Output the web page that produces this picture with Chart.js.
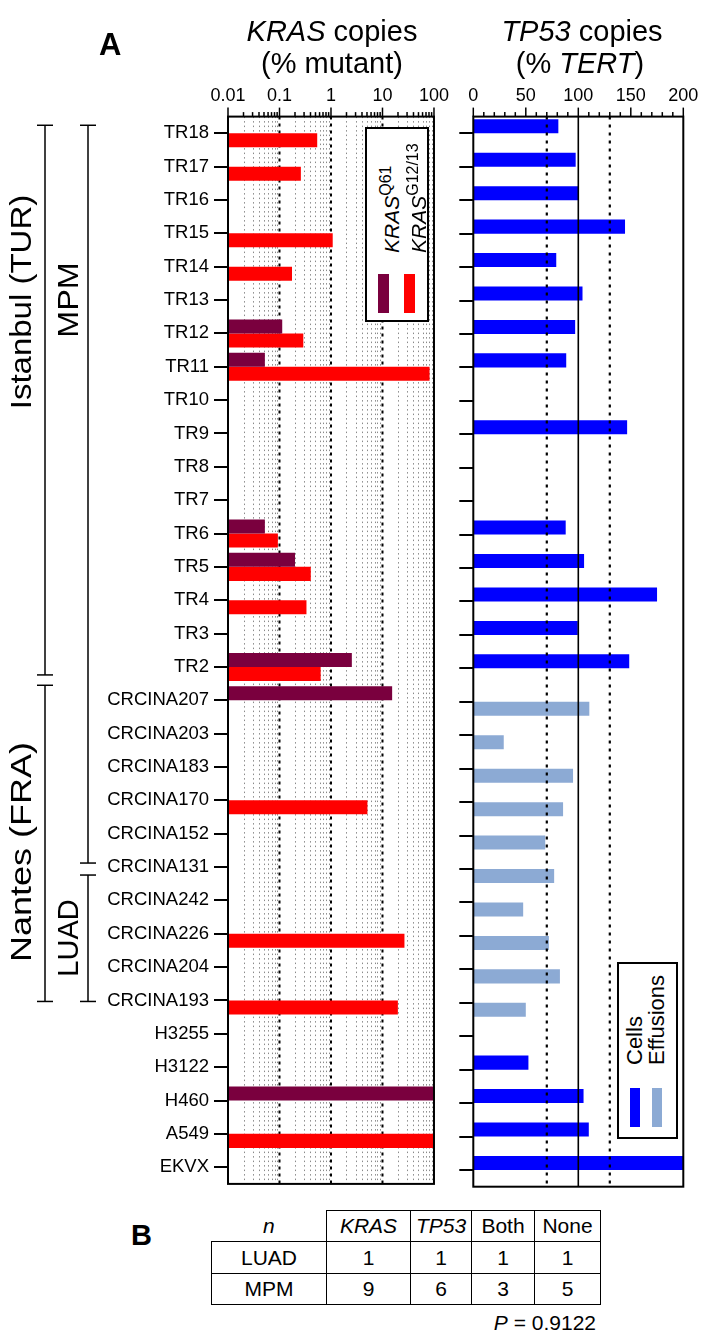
<!DOCTYPE html>
<html>
<head>
<meta charset="utf-8">
<script src="https://cdn.jsdelivr.net/npm/chart.js@4"></script>
<style>
  body { margin: 0; background: #fff; }
  #page { position: relative; width: 709px; height: 1341px; overflow: hidden;
          font-family: "Liberation Sans", Arial, sans-serif; color: #000; }
  .abs { position: absolute; white-space: nowrap; }
  canvas { position: absolute; top: 0; }
  .rot { position: absolute; white-space: nowrap; transform-origin: 0 0; transform: rotate(-90deg); }
  .lgbox { position: absolute; box-sizing: border-box; border: 2px solid #000; background: #fff; }
  .sw { position: absolute; }
  table { position: absolute; border-collapse: collapse; table-layout: fixed; font-size: 21px; }
  td { border: 1.5px solid #000; text-align: center; padding: 0; }
</style>
</head>
<body>
<div id="page">
  <canvas id="kras" width="450" height="1200" style="left:0"></canvas>
  <canvas id="tp53" width="259" height="1200" style="left:450px"></canvas>

  <div class="abs" style="left:99px;top:29px;font-size:31px;font-weight:bold;line-height:31px">A</div>
  <div class="abs" style="left:232px;width:200px;text-align:center;top:17px;font-size:29px;line-height:29px"><i>KRAS</i> copies</div>
  <div class="abs" style="left:232px;width:200px;text-align:center;top:49px;font-size:29px;line-height:29px">(% mutant)</div>
  <div class="abs" style="left:482px;width:200px;text-align:center;top:17px;font-size:29px;line-height:29px"><i>TP53</i> copies</div>
  <div class="abs" style="left:480px;width:200px;text-align:center;top:49px;font-size:29px;line-height:29px">(% <i>TERT</i>)</div>

  <!-- legend KRAS -->
  <div class="lgbox" style="left:365px;top:127px;width:64px;height:195px"></div>
  <div class="rot" style="left:374px;top:253px;font-size:21px;line-height:24px;height:24px"><i>KRAS</i><sup style="font-size:16px">Q61</sup></div>
  <div class="rot" style="left:401px;top:253px;font-size:21px;line-height:24px;height:24px"><i>KRAS</i><sup style="font-size:16px">G12/13</sup></div>
  <div class="sw" style="left:378px;top:274px;width:11px;height:39px;background:#7a003e"></div>
  <div class="sw" style="left:404px;top:274px;width:11px;height:39px;background:#ff0000"></div>

  <!-- legend TP53 -->
  <div class="lgbox" style="left:617px;top:962px;width:61px;height:177px"></div>
  <div class="rot" style="left:622px;top:1065px;font-size:22px;line-height:25px;height:25px">Cells</div>
  <div class="rot" style="left:644px;top:1065px;font-size:22px;line-height:25px;height:25px">Effusions</div>
  <div class="sw" style="left:630px;top:1088px;width:10px;height:39px;background:#0000ff"></div>
  <div class="sw" style="left:652px;top:1088px;width:10px;height:39px;background:#8caad4"></div>

  <div class="abs" style="left:131px;top:1221px;font-size:29px;font-weight:bold;line-height:29px">B</div>
  <table style="left:211px;top:1210px;width:389px">
    <colgroup><col style="width:115px"><col style="width:84px"><col style="width:61px"><col style="width:63px"><col style="width:66px"></colgroup>
    <tr style="height:31px"><td style="border-top:none;border-left:none"><i>n</i></td><td><i>KRAS</i></td><td><i>TP53</i></td><td>Both</td><td>None</td></tr>
    <tr style="height:32px"><td>LUAD</td><td>1</td><td>1</td><td>1</td><td>1</td></tr>
    <tr style="height:31px"><td>MPM</td><td>9</td><td>6</td><td>3</td><td>5</td></tr>
  </table>
  <div class="abs" style="right:113px;top:1312px;font-size:21px;line-height:21px"><i>P</i> = 0.9122</div>
</div>

<script>
const FONT = '"Liberation Sans", Arial, sans-serif';

// samples, top to bottom
const samples = ["TR18", "TR17", "TR16", "TR15", "TR14", "TR13", "TR12", "TR11", "TR10", "TR9",
  "TR8", "TR7", "TR6", "TR5", "TR4", "TR3", "TR2",
  "CRCINA207", "CRCINA203", "CRCINA183", "CRCINA170", "CRCINA152", "CRCINA131",
  "CRCINA242", "CRCINA226", "CRCINA204", "CRCINA193",
  "H3255", "H3122", "H460", "A549", "EKVX"];

// KRAS mutant copies (% mutant), log axis
const krasQ61 = [null, null, null, null, null, null, 0.113, 0.052, null, null,
  null, null, 0.052, 0.2, null, null, 2.54,
  15.4, null, null, null, null, null,
  null, null, null, null,
  null, null, 100, null, null];
const krasG1213 = [0.54, 0.26, null, 1.08, 0.175, null, 0.29, 82, null, null,
  null, null, 0.093, 0.405, 0.334, null, 0.63,
  null, null, null, 5.1, null, null,
  null, 26.7, null, 19.9,
  null, null, null, 100, null];

// TP53 copies (% TERT)
const tp53Cells = [81, 97.5, 100, 144.5, 79, 104, 97, 88.5, null, 146.5,
  null, null, 88, 105.5, 175, 99.5, 148.5,
  null, null, null, null, null, null,
  null, null, null, null,
  null, 52.5, 105, 110, 200];
const tp53Effusions = [null, null, null, null, null, null, null, null, null, null,
  null, null, null, null, null, null, null,
  110.5, 29, 95, 85.5, 68.5, 77,
  47.5, 72, 82.5, 50,
  null, null, null, null, null];

const krasTicks = [0.01, 0.1, 1, 10, 100];
const krasTickLabels = ["0.01", "0.1", "1", "10", "100"];
const tp53Ticks = [0, 50, 100, 150, 200];
const tp53TickLabels = ["0", "50", "100", "150", "200"];
const tp53Dotted = [70, 130];
const tp53Solid = [100];

function line(ctx, x1, y1, x2, y2) {
  ctx.beginPath(); ctx.moveTo(x1, y1); ctx.lineTo(x2, y2); ctx.stroke();
}

function rotText(ctx, text, x, y, size, sx) {
  ctx.save();
  ctx.translate(x, y);
  ctx.rotate(-Math.PI / 2);
  ctx.scale(sx, 1);
  ctx.font = size + 'px ' + FONT;
  ctx.textAlign = 'center';
  ctx.textBaseline = 'middle';
  ctx.fillStyle = '#000';
  ctx.fillText(text, 0, 0);
  ctx.restore();
}

const krasDeco = {
  id: 'krasDeco',
  beforeDatasetsDraw(chart) {
    const { ctx, chartArea: a, scales: { x } } = chart;
    ctx.save();
    // minor grid
    ctx.strokeStyle = '#8a8a8a';
    ctx.lineWidth = 1;
    ctx.setLineDash([1.5, 3]);
    for (let d = 0; d < krasTicks.length - 1; d++) {
      for (let m = 2; m <= 9; m++) {
        const px = Math.round(x.getPixelForValue(krasTicks[d] * m)) + 0.5;
        line(ctx, px, a.top, px, a.bottom);
      }
    }
    // decade grid
    ctx.strokeStyle = '#000';
    ctx.lineWidth = 2;
    ctx.setLineDash([3, 4]);
    krasTicks.slice(1, -1).forEach(v => {
      const px = x.getPixelForValue(v);
      line(ctx, px, a.top, px, a.bottom);
    });
    ctx.restore();
  },
  afterDraw(chart) {
    const { ctx, chartArea: a, scales: { x, y } } = chart;
    ctx.save();
    ctx.strokeStyle = '#000';
    ctx.lineWidth = 2;
    ctx.strokeRect(a.left, a.top, a.right - a.left, a.bottom - a.top);
    ctx.lineWidth = 1.5;
    for (let d = 0; d < krasTicks.length; d++) {
      const px = x.getPixelForValue(krasTicks[d]);
      line(ctx, px, a.top, px, a.top - 9);
      if (d < krasTicks.length - 1) {
        for (let m = 2; m <= 9; m++) {
          const mx = x.getPixelForValue(krasTicks[d] * m);
          line(ctx, mx, a.top, mx, a.top - 4.5);
        }
      }
    }
    // group brackets
    const yi = i => y.getPixelForValue(i);
    const bracket = (bx, y1, y2) => {
      line(ctx, bx, y1, bx, y2);
      line(ctx, bx - 8, y1, bx + 8, y1);
      line(ctx, bx - 8, y2, bx + 8, y2);
    };
    bracket(45, yi(0) - 8, yi(16) + 8);
    bracket(45, yi(17) - 15, yi(26) + 1);
    bracket(88, yi(0) - 8, yi(22) - 4);
    bracket(88, yi(22) + 8, yi(26) + 1);
    ctx.restore();
    rotText(ctx, 'Istanbul (TUR)', 23, 302, 30, 1.1);
    rotText(ctx, 'MPM', 70, 300, 30, 1.08);
    rotText(ctx, 'Nantes (FRA)', 23, 852, 30, 1.2);
    rotText(ctx, 'LUAD', 70, 938, 29, 1.0);
  }
};

const tp53Deco = {
  id: 'tp53Deco',
  afterDatasetsDraw(chart) {
    const { ctx, chartArea: a, scales: { x } } = chart;
    ctx.save();
    ctx.strokeStyle = '#000';
    ctx.lineWidth = 2.2;
    ctx.setLineDash([3, 5]);
    tp53Dotted.forEach(v => {
      const px = x.getPixelForValue(v);
      line(ctx, px, a.top, px, a.bottom);
    });
    ctx.setLineDash([]);
    ctx.lineWidth = 1.6;
    tp53Solid.forEach(v => {
      const px = x.getPixelForValue(v);
      line(ctx, px, a.top, px, a.bottom);
    });
    ctx.restore();
  },
  afterDraw(chart) {
    const { ctx, chartArea: a, scales: { x } } = chart;
    ctx.save();
    ctx.strokeStyle = '#000';
    ctx.lineWidth = 2;
    ctx.strokeRect(a.left, a.top, a.right - a.left, a.bottom - a.top);
    ctx.lineWidth = 1.5;
    for (let v = x.min; v <= x.max; v += 10) {
      const px = x.getPixelForValue(v);
      line(ctx, px, a.top, px, a.top - (v % 50 === 0 ? 9 : 4.5));
    }
    ctx.restore();
  }
};

const catAxis = (width, showLabels) => ({
  type: 'category',
  offset: true,
  grid: { offset: false, drawOnChartArea: false, drawTicks: true, tickLength: 14, color: '#000', lineWidth: 2 },
  border: { display: false },
  ticks: { display: showLabels, autoSkip: false, color: '#000', padding: 5, font: { size: 18.5, family: FONT } },
  afterFit: s => { s.width = width; }
});

const valueAxis = (type, min, max, ticks, tickLabels) => ({
  type: type,
  position: 'top',
  min: min,
  max: max,
  grid: { display: false, drawTicks: true, tickLength: 9 },
  border: { display: false },
  afterBuildTicks: s => { s.ticks = ticks.map(v => ({ value: v })); },
  afterFit: s => { s.height = 116.6; },
  ticks: {
    autoSkip: false, maxRotation: 0, padding: 1, color: '#000',
    font: { size: 18, family: FONT },
    callback: (v, i) => tickLabels[i]
  }
});

const common = {
  indexAxis: 'y',
  responsive: false,
  animation: false,
  plugins: { legend: { display: false }, tooltip: { enabled: false } },
  datasets: { bar: { categoryPercentage: 0.84, barPercentage: 1.0 } }
};

new Chart(document.getElementById('kras'), {
  type: 'bar',
  data: {
    labels: samples,
    datasets: [
      { label: 'KRAS Q61', data: krasQ61, backgroundColor: '#7a003e' },
      { label: 'KRAS G12/13', data: krasG1213, backgroundColor: '#ff0000' }
    ]
  },
  options: Object.assign({}, common, {
    layout: { padding: { left: 0, right: 13, top: 0, bottom: 13.3 } },
    scales: {
      x: valueAxis('logarithmic', 0.01, 100, krasTicks, krasTickLabels),
      y: catAxis(228, true)
    }
  }),
  plugins: [krasDeco]
});

new Chart(document.getElementById('tp53'), {
  type: 'bar',
  data: {
    labels: samples,
    datasets: [
      { label: 'Cells', data: tp53Cells, backgroundColor: '#0000ff' },
      { label: 'Effusions', data: tp53Effusions, backgroundColor: '#8caad4' }
    ]
  },
  options: Object.assign({}, common, {
    layout: { padding: { left: 0, right: 25.7, top: 0, bottom: 13.3 } },
    scales: {
      x: valueAxis('linear', 0, 200, tp53Ticks, tp53TickLabels),
      y: catAxis(23.3, false)
    }
  }),
  plugins: [tp53Deco]
});
</script>
</body>
</html>
